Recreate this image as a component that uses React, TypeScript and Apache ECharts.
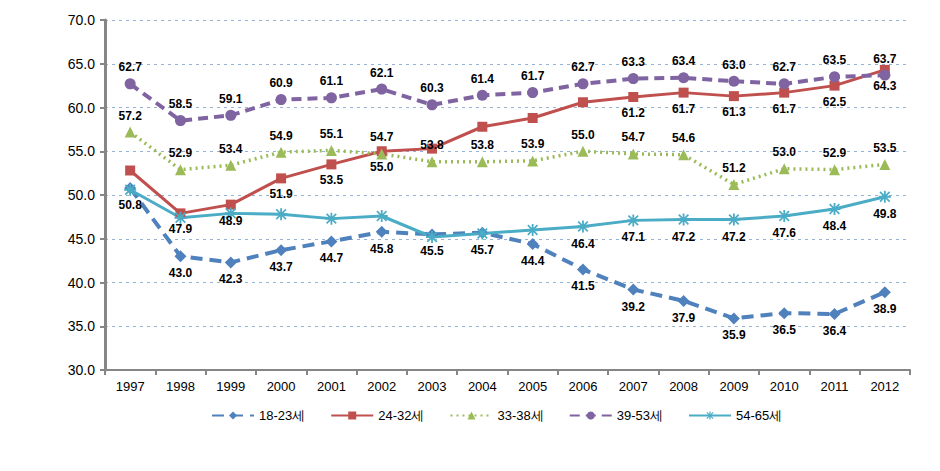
import React, { useEffect, useRef } from "react";
import * as echarts from "echarts";

const years = ["1997","1998","1999","2000","2001","2002","2003","2004","2005","2006","2007","2008","2009","2010","2011","2012"];
const s1823 = [50.8, 43.0, 42.3, 43.7, 44.7, 45.8, 45.5, 45.7, 44.4, 41.5, 39.2, 37.9, 35.9, 36.5, 36.4, 38.9];
const s2432 = [52.8, 47.9, 48.9, 51.9, 53.5, 55.0, 55.3, 57.8, 58.8, 60.6, 61.2, 61.7, 61.3, 61.7, 62.5, 64.3];
const s3338 = [57.2, 52.9, 53.4, 54.9, 55.1, 54.7, 53.8, 53.8, 53.9, 55.0, 54.7, 54.6, 51.2, 53.0, 52.9, 53.5];
const s3953 = [62.7, 58.5, 59.1, 60.9, 61.1, 62.1, 60.3, 61.4, 61.7, 62.7, 63.3, 63.4, 63.0, 62.7, 63.5, 63.7];
const s5465 = [50.6, 47.4, 47.9, 47.8, 47.3, 47.6, 45.2, 45.6, 46.0, 46.4, 47.1, 47.2, 47.2, 47.6, 48.4, 49.8];
const names = ["18-23세", "24-32세", "33-38세", "39-53세", "54-65세"];

const ASTERISK =
  "path://M0 8.5H20V11.5H0Z M8.5 0H11.5V20H8.5Z M3 1L19 17L17 19L1 3Z M17 1L19 3L3 19L1 17Z";

export default function App() {
  const ref = useRef<HTMLDivElement>(null);
  useEffect(() => {
    if (!ref.current) return;
    const chart = echarts.init(ref.current, null, { renderer: "svg" });
    const font = "Liberation Sans, Arial, sans-serif";
    const mk = (
      name: string,
      data: number[],
      color: string,
      lineType: any,
      width: number,
      symbol: string,
      symbolSize: number,
      pos: string,
      hidden: number[]
    ) => ({
      name,
      type: "line",
      data: data.map((v, i) => ({
        value: v,
        label: { show: hidden.indexOf(i) < 0 },
      })),
      symbol,
      symbolSize,
      lineStyle: { color, width, type: lineType },
      itemStyle: { color },
      label: {
        show: true,
        position: pos,
        distance: 5,
        color: "#000",
        fontWeight: "bold",
        fontSize: 12,
        fontFamily: font,
        formatter: (p: any) => Number(p.value).toFixed(1),
      },
    });
    chart.setOption({
      animation: false,
      grid: { left: 97, right: 22, top: 12, bottom: 93 },
      legend: {
        bottom: 36,
        left: 198,
        itemWidth: 42,
        itemHeight: 10,
        itemGap: 25,
        textStyle: { fontSize: 13, fontFamily: font, color: "#000" },
        data: names,
      },
      xAxis: {
        type: "category",
        data: years,
        boundaryGap: true,
        axisLine: { lineStyle: { color: "#868686", width: 2 } },
        axisTick: { show: true, length: 5, lineStyle: { color: "#868686", width: 2 } },
        axisLabel: { color: "#000", fontSize: 13, fontFamily: font, margin: 10 },
      },
      yAxis: {
        type: "value",
        min: 30,
        max: 70,
        interval: 5,
        axisLine: { show: true, lineStyle: { color: "#868686", width: 3 } },
        axisTick: { show: true, length: 5, lineStyle: { color: "#868686", width: 2 } },
        axisLabel: {
          color: "#000",
          fontSize: 14,
          fontFamily: font,
          margin: 10,
          formatter: (v: number) => v.toFixed(1),
        },
        splitLine: { lineStyle: { color: "#95B3D7", width: 1, type: [3, 4] } },
      },
      series: [
        mk(names[0], s1823, "#4F81BD", [12, 7], 4, "diamond", 12, "bottom", []),
        mk(names[1], s2432, "#C0504D", "solid", 3, "rect", 10, "bottom", [0, 6, 7, 8, 9]),
        mk(names[2], s3338, "#9BBB59", [2, 4], 3.5, "triangle", 11, "top", []),
        mk(names[3], s3953, "#8064A2", [10, 6], 4, "circle", 11, "top", []),
        mk(names[4], s5465, "#4BACC6", "solid", 3, ASTERISK, 12, "bottom", [0, 1, 2, 3, 4, 5, 6, 7, 8]),
      ],
    });
    return () => chart.dispose();
  }, []);
  return <div ref={ref} style={{ width: 924, height: 455 }} />;
}
